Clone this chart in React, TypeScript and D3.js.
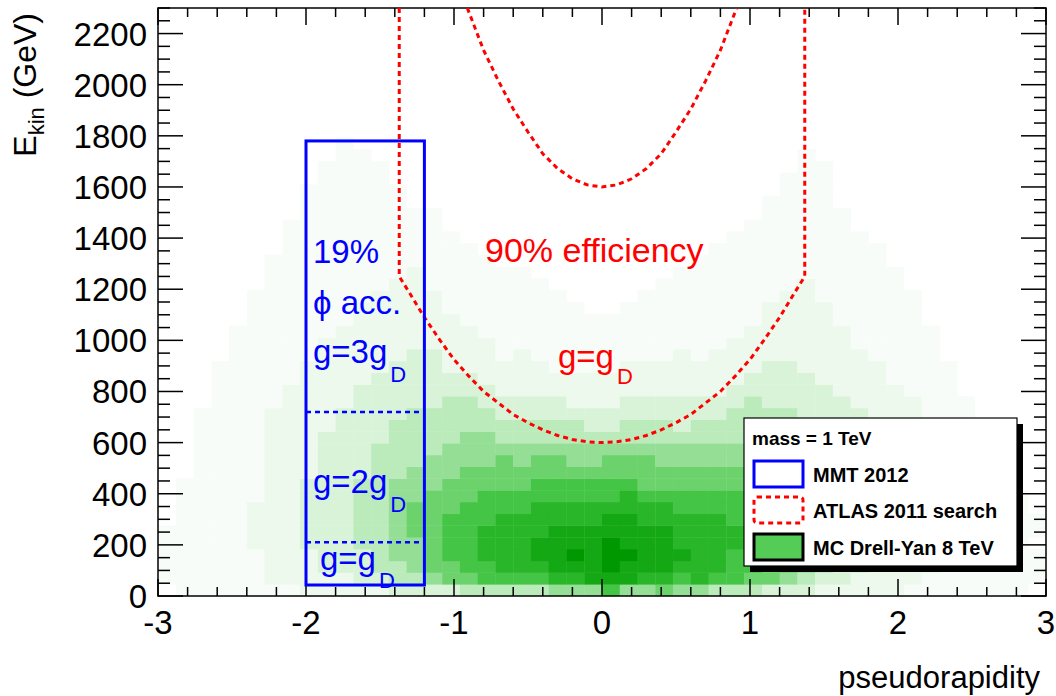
import React from "react";
import * as d3 from "d3";

const W = 1056;
const H = 696;
const M = { left: 158, right: 1046, top: 8, bottom: 596 };

const xDomain: [number, number] = [-3, 3];
const yDomain: [number, number] = [0, 2300];
const etaBins = 50;
const eBins = 50;

const xTickLabels = [-3, -2, -1, 0, 1, 2, 3];
const yTickLabels = [0, 200, 400, 600, 800, 1000, 1200, 1400, 1600, 1800, 2000, 2200];

// heat levels per E bin (row 0 = lowest energy), 50 pseudorapidity bins per row
const heatRows: string[] = [
  "01111 11122 22233 33444 44555 75565 54443 33222 22111 11110",
  "11111 12222 23344 56677 77889 99887 87766 54332 22211 11111",
  "11111 12223 33445 66778 88999 A9998 88776 65433 22221 11111",
  "11111 12223 33455 67788 899A9 AA999 88776 65443 32221 11111",
  "11111 22233 34455 67788 89999 A9998 88877 65443 32221 11110",
  "11111 22233 34456 67788 88999 99998 88877 66543 32221 11111",
  "01111 22233 34456 67778 88888 99888 88777 66544 32221 11111",
  "01111 22233 34456 66777 78888 88887 77776 65544 33221 11110",
  "01111 12233 34455 66677 77777 78777 77766 65544 33221 11110",
  "01111 12233 34455 56666 67777 77666 66666 55443 32221 11100",
  "00111 12223 33445 55666 66666 66666 66655 54443 32221 11100",
  "00111 12223 33444 55556 56655 66655 55555 44433 32211 11100",
  "00111 12223 33444 45555 55555 55555 55544 44433 32211 11100",
  "00111 12223 33344 44554 44444 44444 44444 44433 32211 11000",
  "00111 12222 33344 44444 44443 34443 44444 44333 32211 10000",
  "00111 12222 33334 44443 33333 33333 33444 43333 22211 10000",
  "00011 11222 23333 34433 33322 23333 33343 33332 22211 10000",
  "00011 11222 23333 33332 22222 22222 22333 33322 22111 00000",
  "00011 11122 22333 33322 22222 22222 22233 33222 21111 00000",
  "00011 11122 22233 32222 22111 12222 22223 32222 21111 00000",
  "00001 11112 22223 32221 21111 11112 12222 22222 11110 00000",
  "00001 11112 22222 22221 11111 11111 11222 22221 11110 00000",
  "00001 11111 22222 22211 11111 11111 11122 22221 11110 00000",
  "00000 11111 12222 22111 11111 11111 11112 22211 11100 00000",
  "00000 11111 12222 21111 11110 01111 11112 22211 11100 00000",
  "00000 11111 11222 21111 11100 00111 11111 22111 11100 00000",
  "00000 01111 11122 11111 11000 00011 11111 12111 11000 00000",
  "00000 01111 11112 11111 10000 00001 11111 11111 11000 00000",
  "00000 01111 11111 11110 00000 00000 11111 11111 10000 00000",
  "00000 00111 11111 11100 00000 00000 01111 11111 10000 00000",
  "00000 00111 11111 11000 00000 00000 00111 11111 00000 00000",
  "00000 00111 11111 10000 00000 00000 00011 11110 00000 00000",
  "00000 00011 11111 10000 00000 00000 00001 11110 00000 00000",
  "00000 00011 11110 00000 00000 00000 00001 11100 00000 00000",
  "00000 00011 11110 00000 00000 00000 00000 11100 00000 00000",
  "00000 00001 11100 00000 00000 00000 00000 11100 00000 00000",
  "00000 00001 11100 00000 00000 00000 00000 01100 00000 00000",
  "00000 00000 11000 00000 00000 00000 00000 01000 00000 00000",
  "00000 00000 10000 00000 00000 00000 00000 00000 00000 00000",
];

const levelColors = [
  "#ffffff", "#f8fcf8", "#edf9ed", "#d9f3d9", "#bbeabb", "#95de95",
  "#6cd26c", "#45c545", "#29b629", "#14a814", "#009800",
];

// MMT 2012 acceptance box
const mmtBox = { etaMin: -2.0, etaMax: -1.2, eMin: 43, eMax: 1780 };
const mmtDividers = [210, 720];

// ATLAS 2011 search, g = gD contour (eta, E)
const atlasLower: [number, number][] = [
  [-1.37, 2300], [-1.37, 1250], [-1.3, 1185], [-1.2, 1090], [-1.1, 1005], [-1.0, 925],
  [-0.9, 860], [-0.8, 800], [-0.7, 755], [-0.6, 710], [-0.5, 678], [-0.4, 650],
  [-0.3, 628], [-0.2, 612], [-0.1, 603], [0, 600], [0.1, 603], [0.2, 612], [0.3, 628],
  [0.4, 650], [0.5, 678], [0.6, 710], [0.7, 755], [0.8, 800], [0.9, 860], [1.0, 925],
  [1.1, 1005], [1.2, 1090], [1.3, 1185], [1.37, 1250], [1.37, 2300],
];
// ATLAS 90% efficiency contour
const atlasUpper: [number, number][] = [
  [-0.91, 2300], [-0.8, 2135], [-0.7, 2015], [-0.6, 1905], [-0.5, 1815], [-0.4, 1730],
  [-0.3, 1672], [-0.2, 1632], [-0.1, 1608], [0, 1600], [0.1, 1608], [0.2, 1632],
  [0.3, 1672], [0.4, 1730], [0.5, 1815], [0.6, 1905], [0.7, 2015], [0.8, 2135], [0.91, 2300],
];

const FONT = "'Liberation Sans', Arial, Helvetica, sans-serif";

export default function App() {
  const x = d3.scaleLinear().domain(xDomain).range([M.left, M.right]);
  const y = d3.scaleLinear().domain(yDomain).range([M.bottom, M.top]);
  const color = (lv: number) => levelColors[Math.max(0, Math.min(levelColors.length - 1, lv))];

  const etaStep = (xDomain[1] - xDomain[0]) / etaBins;
  const eStep = (yDomain[1] - yDomain[0]) / eBins;
  const cells: { i: number; j: number; lv: number }[] = [];
  heatRows.forEach((row, j) => {
    const s = row.replace(/ /g, "");
    for (let i = 0; i < etaBins; i++) {
      const c = s[i] || "0";
      const lv = "0123456789A".indexOf(c);
      if (lv > 0) cells.push({ i, j, lv });
    }
  });

  const line = d3.line<[number, number]>().x((d) => x(d[0])).y((d) => y(d[1]));

  const xMinor = d3.range(-3, 3.0001, 0.2);
  const yMinor = d3.range(0, 2300.001, 50);

  const xMajLen = 17, xMinLen = 9, yMajLen = 25, yMinLen = 12;

  return (
    <svg width={W} height={H} style={{ position: "absolute", left: 0, top: 0 }} fontFamily={FONT}>
      <rect x={0} y={0} width={W} height={H} fill="#ffffff" />
      <defs>
        <clipPath id="plotclip">
          <rect x={M.left} y={M.top} width={M.right - M.left} height={M.bottom - M.top} />
        </clipPath>
      </defs>
      <g clipPath="url(#plotclip)">
        {cells.map((c) => {
          const x0 = x(xDomain[0] + c.i * etaStep);
          const x1 = x(xDomain[0] + (c.i + 1) * etaStep);
          const y0 = y(c.j * eStep);
          const y1 = y((c.j + 1) * eStep);
          return (
            <rect key={`${c.i}-${c.j}`} x={x0} y={y1} width={x1 - x0 + 0.4} height={y0 - y1 + 0.4}
              fill={color(c.lv)} />
          );
        })}
      </g>

      {/* frame */}
      <rect x={M.left} y={M.top} width={M.right - M.left} height={M.bottom - M.top}
        fill="none" stroke="#000" strokeWidth={1.5} />

      {/* x ticks */}
      {xMinor.map((v, k) => {
        const major = Math.abs(v - Math.round(v)) < 1e-6;
        const len = major ? xMajLen : xMinLen;
        const px = x(v);
        return (
          <g key={`xt${k}`} stroke="#000" strokeWidth={1.5}>
            <line x1={px} x2={px} y1={M.bottom} y2={M.bottom - len} />
            <line x1={px} x2={px} y1={M.top} y2={M.top + len} />
          </g>
        );
      })}
      {yMinor.map((v, k) => {
        const major = Math.abs(v / 200 - Math.round(v / 200)) < 1e-6;
        const len = major ? yMajLen : yMinLen;
        const py = y(v);
        return (
          <g key={`yt${k}`} stroke="#000" strokeWidth={1.5}>
            <line x1={M.left} x2={M.left + len} y1={py} y2={py} />
            <line x1={M.right} x2={M.right - len} y1={py} y2={py} />
          </g>
        );
      })}

      {/* tick labels */}
      {xTickLabels.map((v) => (
        <text key={`xl${v}`} x={x(v)} y={634} fontSize={33} textAnchor="middle" fill="#000">
          {v}
        </text>
      ))}
      {yTickLabels.map((v) => (
        <text key={`yl${v}`} x={147} y={y(v) + 12} fontSize={33} textAnchor="end" fill="#000">
          {v}
        </text>
      ))}

      {/* axis titles */}
      <text x={1040} y={688} fontSize={31} textAnchor="end" fill="#000">pseudorapidity</text>
      <text transform="translate(36,13) rotate(-90)" fontSize={32} textAnchor="end" fill="#000">
        <tspan>E</tspan>
        <tspan fontSize={22} dy={8}>kin</tspan>
        <tspan dy={-8}> (GeV)</tspan>
      </text>

      {/* ATLAS curves */}
      <g clipPath="url(#plotclip)" fill="none" stroke="#ff0000" strokeWidth={3} strokeDasharray="5 4">
        <path d={line(atlasLower) || ""} />
        <path d={line(atlasUpper) || ""} />
      </g>

      {/* MMT box */}
      <rect x={x(mmtBox.etaMin)} y={y(mmtBox.eMax)} width={x(mmtBox.etaMax) - x(mmtBox.etaMin)}
        height={y(mmtBox.eMin) - y(mmtBox.eMax)} fill="none" stroke="#0000ff" strokeWidth={3} />
      {mmtDividers.map((e) => (
        <line key={`d${e}`} x1={x(mmtBox.etaMin)} x2={x(mmtBox.etaMax) - 3} y1={y(e)} y2={y(e)}
          stroke="#0000ff" strokeWidth={2.5} strokeDasharray="5 4" />
      ))}

      {/* blue annotations */}
      <g fill="#0000ff" fontSize={33}>
        <text x={313} y={263}>19%</text>
        <text x={313} y={314}>ϕ acc.</text>
        <text x={313} y={363}>g=3g<tspan fontSize={22} dx={3} dy={19}>D</tspan></text>
        <text x={313} y={493}>g=2g<tspan fontSize={22} dx={3} dy={19}>D</tspan></text>
        <text x={320} y={570}>g=g<tspan fontSize={22} dx={3} dy={18}>D</tspan></text>
      </g>

      {/* red annotations */}
      <g fill="#ff0000" fontSize={34}>
        <text x={485} y={262}>90% efficiency</text>
        <text x={558} y={368} fontSize={33}>g=g<tspan fontSize={22} dx={3} dy={16}>D</tspan></text>
      </g>

      {/* legend */}
      <rect x={750} y={424} width={273} height={148} fill="#000" />
      <rect x={744} y={418} width={273} height={148} fill="#fff" stroke="#000" strokeWidth={1.2} />
      <g fontWeight="bold" fontSize={20} fill="#000">
        <text x={752} y={445} fontSize={19}>mass = 1 TeV</text>
        <text x={813} y={482}>MMT 2012</text>
        <text x={813} y={518}>ATLAS 2011 search</text>
        <text x={813} y={555}>MC Drell-Yan 8 TeV</text>
      </g>
      <rect x={754} y={461} width={49} height={26} fill="#fff" stroke="#0000ff" strokeWidth={3} />
      <rect x={754} y={497} width={49} height={26} rx={3} fill="#fff" stroke="#ff0000" strokeWidth={3}
        strokeDasharray="5 4" />
      <rect x={754} y={534} width={49} height={26} fill="#55cc55" stroke="#000" strokeWidth={3} />
    </svg>
  );
}
